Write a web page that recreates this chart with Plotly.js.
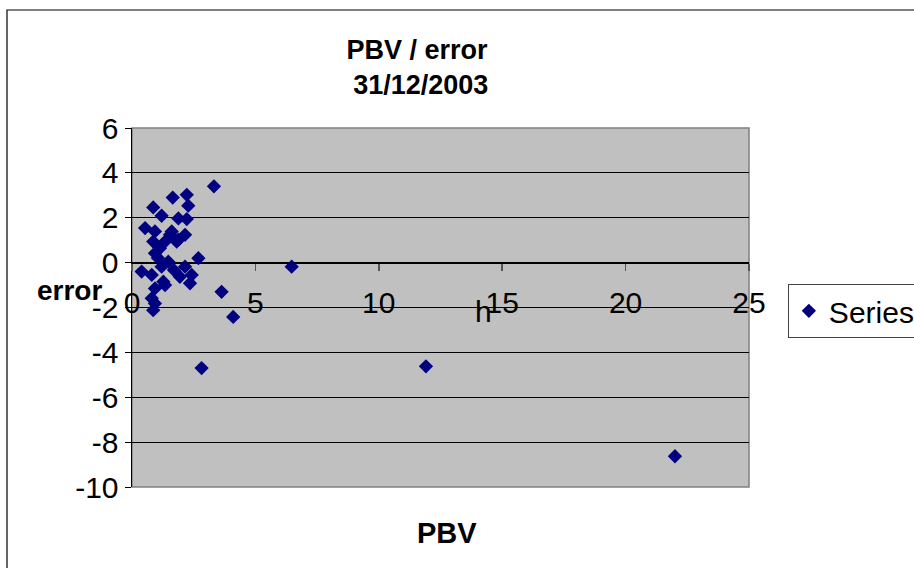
<!DOCTYPE html>
<html>
<head>
<meta charset="utf-8">
<script src="https://cdn.plot.ly/plotly-3.0.1.min.js"></script>
<style>
html,body{margin:0;padding:0;background:#fff;}
#chart{width:914px;height:568px;}
</style>
</head>
<body>
<div id="chart"></div>
<script>
// PBV (x) and error (y) values
const pbv = [3.32, 1.65, 2.22, 2.28, 0.86, 1.20, 1.88, 2.22, 0.53, 0.93,
             1.61, 2.15, 1.88, 1.34, 0.86, 1.13, 0.93, 1.47, 1.20, 0.39,
             0.80, 2.69, 2.15, 2.42, 1.94, 2.35, 1.34, 0.93, 0.80, 0.93,
             0.86, 3.63, 4.10, 6.47, 2.82, 11.91, 22.0, 1.54, 1.81, 1.27,
             1.05, 1.70];
const err = [3.40, 2.90, 3.02, 2.54, 2.46, 2.09, 1.97, 1.94, 1.54, 1.39,
             1.39, 1.24, 1.02, 0.94, 0.94, 0.64, 0.42, 0.04, -0.18, -0.40,
             -0.55, 0.20, -0.18, -0.55, -0.63, -0.92, -1.00, -1.15, -1.59, -1.82,
             -2.12, -1.30, -2.42, -0.18, -4.70, -4.62, -8.63, 1.24, 0.94, -0.85,
             0.21, -0.33];
const seriesName = "Series1";
const xTicks = [0, 5, 10, 15, 20, 25];
const yTicks = [6, 4, 2, 0, -2, -4, -6, -8, -10];

const FONT = "Liberation Sans, Arial, sans-serif";

const trace = {
  x: pbv, y: err, type: "scatter", mode: "markers", name: seriesName,
  marker: {symbol: "diamond", size: 11, color: "#000080", line: {width: 0}},
  cliponaxis: false
};

const layout = {
  width: 914, height: 568,
  margin: {l: 132, r: 165, t: 128, b: 81, autoexpand: false},
  paper_bgcolor: "#ffffff",
  plot_bgcolor: "#C0C0C0",
  font: {family: FONT, color: "#000"},
  showlegend: true,
  title: {
    text: "<b>PBV / error</b><br><b> 31/12/2003</b>",
    font: {family: FONT, size: 27, color: "#000"},
    x: 0.462, xref: "paper", xanchor: "center",
    y: 0.897, yref: "container", yanchor: "top"
  },
  xaxis: {
    range: [0, 25], tickvals: xTicks, ticktext: xTicks.map(String),
    showgrid: false, zeroline: false,
    showline: true, linecolor: "#000", linewidth: 1,
    ticks: "outside", ticklen: 7, tickcolor: "#555", tickwidth: 1.5,
    anchor: "free", position: 0.625,
    ticklabelstandoff: 6,
    tickfont: {family: FONT, size: 30, color: "#000"}
  },
  yaxis: {
    range: [-10, 6], tickvals: yTicks, ticktext: yTicks.map(String),
    showgrid: true, gridcolor: "#000", gridwidth: 1,
    zeroline: false,
    showline: true, linecolor: "#000", linewidth: 1.5,
    ticks: "outside", ticklen: 6, tickcolor: "#000",
    tickfont: {family: FONT, size: 30, color: "#000"}
  },
  legend: {
    x: 1.063, xanchor: "left", y: 0.566, yanchor: "top",
    bordercolor: "#444", borderwidth: 1, bgcolor: "#fff",
    font: {family: FONT, size: 30, color: "#000"},
    itemwidth: 30, tracegroupgap: 0
  },
  shapes: [
    {type: "rect", xref: "paper", yref: "paper", x0: 0, x1: 1, y0: 0, y1: 1,
     line: {color: "#808080", width: 1.5}, fillcolor: "rgba(0,0,0,0)", layer: "below"},
    {type: "rect", xref: "paper", yref: "paper", x0: -0.2026, x1: 1.8, y0: -0.8, y1: 1.3287,
     line: {color: "#000", width: 1.2}, fillcolor: "rgba(0,0,0,0)", layer: "below"}
  ],
  annotations: [
    {text: "<b>error</b>", xref: "paper", yref: "paper", x: -0.1005, y: 0.5487,
     xanchor: "center", yanchor: "middle",
     showarrow: false, font: {family: FONT, size: 28, color: "#000"}},
    {text: "<b>PBV</b>", xref: "paper", yref: "paper", x: 0.5105, y: -0.128,
     xanchor: "center", yanchor: "middle",
     showarrow: false, font: {family: FONT, size: 29, color: "#000"}},
    {text: "h", xref: "paper", yref: "paper", x: 0.569, y: 0.49,
     xanchor: "center", yanchor: "middle",
     showarrow: false, font: {family: FONT, size: 30, color: "#000"}}
  ]
};

Plotly.newPlot("chart", [trace], layout, {displayModeBar: false, staticPlot: true});
</script>
</body>
</html>
